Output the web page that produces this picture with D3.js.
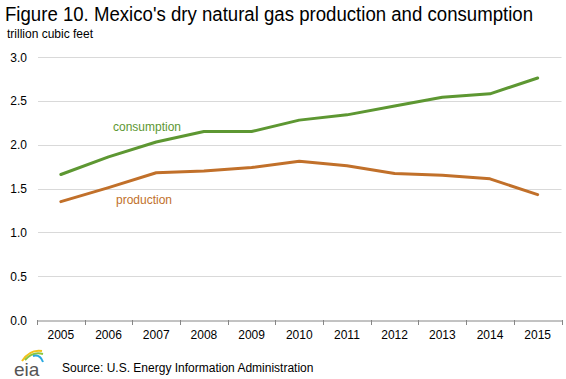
<!DOCTYPE html>
<html><head><meta charset="utf-8">
<script src="https://cdn.jsdelivr.net/npm/d3@7/dist/d3.min.js"></script>
<style>body{margin:0;background:#fff}svg{display:block}text{font-family:"Liberation Sans",Arial,sans-serif}</style>
</head><body><svg id="c" width="566" height="379"></svg>
<script>
const years = ["2005","2006","2007","2008","2009","2010","2011","2012","2013","2014","2015"];
const consumption = [1.66,1.86,2.03,2.15,2.15,2.28,2.34,2.44,2.54,2.58,2.76];
const production = [1.35,1.51,1.68,1.70,1.74,1.81,1.76,1.67,1.65,1.61,1.43];
const yTicks = [0,0.5,1.0,1.5,2.0,2.5,3.0];

const svg = d3.select("#c");
const x = d3.scaleBand().domain(years).range([37,561.5]);
const y = d3.scaleLinear().domain([0,3]).range([320,57]);

svg.append("text").attr("x",5).attr("y",21).attr("font-size",19.5).attr("fill","#000")
  .attr("textLength",528).attr("lengthAdjust","spacingAndGlyphs")
  .text("Figure 10. Mexico's dry natural gas production and consumption");
svg.append("text").attr("x",7).attr("y",38).attr("font-size",12).attr("fill","#000").text("trillion cubic feet");

// gridlines
svg.append("g").selectAll("line").data(yTicks.filter(d=>d>0)).join("line")
  .attr("x1",38).attr("x2",561.5).attr("y1",d=>Math.round(y(d))+0.5).attr("y2",d=>Math.round(y(d))+0.5)
  .attr("stroke","#d9d9d9").attr("stroke-width",1);
// y labels
svg.append("g").selectAll("text").data(yTicks).join("text")
  .attr("x",27).attr("y",d=>y(d)+4.5).attr("text-anchor","end").attr("font-size",12).attr("fill","#000")
  .text(d=>d.toFixed(1));

// x axis
const xa = svg.append("g").attr("transform","translate(0,320.5)")
  .call(d3.axisBottom(x).tickSize(0).tickPadding(10));
xa.select(".domain").attr("stroke","#868686");
xa.selectAll("text").attr("font-size",12).attr("fill","#000").attr("font-family","Liberation Sans, Arial, sans-serif");
svg.append("g").selectAll("line").data(years.concat(["end"])).join("line")
  .attr("x1",(d,i)=>Math.round(x.range()[0]+i*x.bandwidth())+0.5)
  .attr("x2",(d,i)=>Math.round(x.range()[0]+i*x.bandwidth())+0.5)
  .attr("y1",320).attr("y2",325).attr("stroke","#868686");

const line = d3.line().x((d,i)=>x(years[i])+x.bandwidth()/2).y(d=>y(d));
svg.append("path").datum(consumption).attr("d",line).attr("fill","none")
  .attr("stroke","#5d9732").attr("stroke-width",3).attr("stroke-linejoin","round").attr("stroke-linecap","round");
svg.append("path").datum(production).attr("d",line).attr("fill","none")
  .attr("stroke","#c1702a").attr("stroke-width",3).attr("stroke-linejoin","round").attr("stroke-linecap","round");

svg.append("text").attr("x",113).attr("y",131).attr("font-size",12).attr("fill","#5d9732").text("consumption");
svg.append("text").attr("x",116).attr("y",204).attr("font-size",12).attr("fill","#c1702a").text("production");

// source
svg.append("text").attr("x",62).attr("y",372).attr("font-size",12).attr("fill","#000")
  .text("Source: U.S. Energy Information Administration");
// eia logo
const lg = svg.append("g");
lg.append("path").attr("d","M22,361 Q30,349 42,351").attr("fill","none").attr("stroke","#f2c21b").attr("stroke-width",2);
lg.append("path").attr("d","M25,360 Q33,351 43,354").attr("fill","none").attr("stroke","#8cc63f").attr("stroke-width",2);
lg.append("path").attr("d","M33,356 Q40,354 43,362").attr("fill","none").attr("stroke","#29a9e1").attr("stroke-width",2);
lg.append("text").attr("x",14).attr("y",376).attr("font-size",19).attr("font-family","Liberation Serif, serif")
  .attr("fill","#555").text("eia");
</script></body></html>
